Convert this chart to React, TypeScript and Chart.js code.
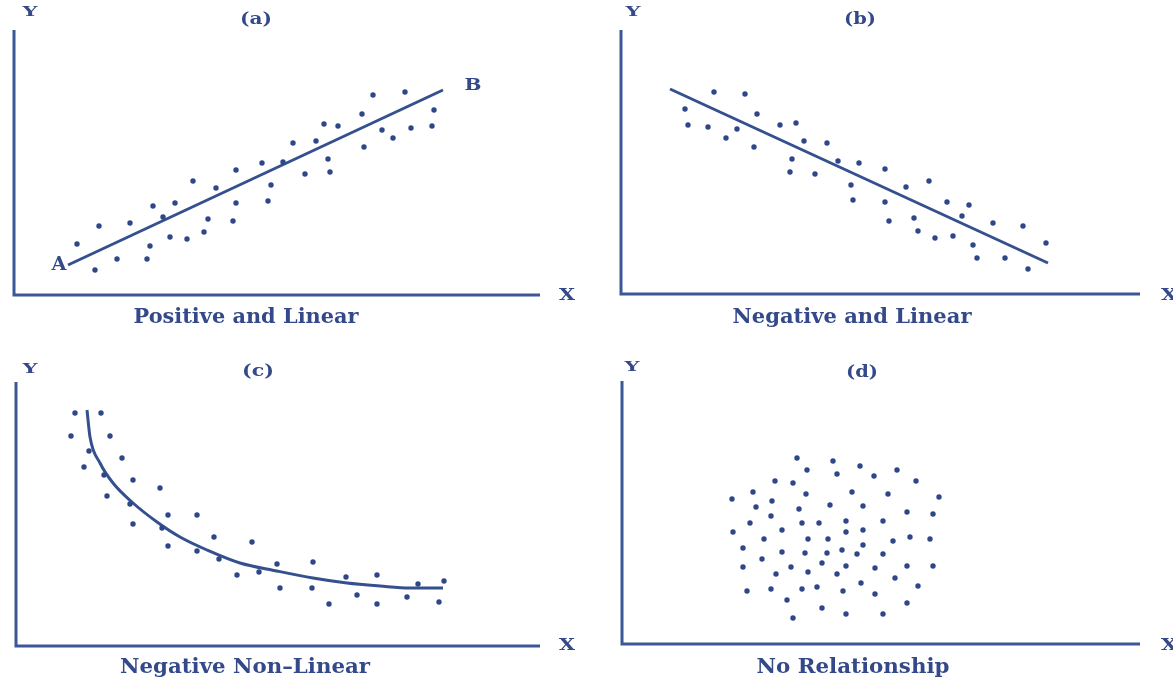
import React, { useEffect, useRef } from "react";
import { Chart, registerables } from "chart.js";

Chart.register(...registerables);

// ---------- Data (units: tenths of the axis drawing, origin at axis corner) ----------
// Panel (a) Positive and Linear
const A_DOTS_X = [6.3, 8.5, 8.1, 10.3, 11.6, 13.3, 13.6, 13.9, 14.9, 15.6, 16.1, 17.3, 17.9, 19.0, 19.4, 20.2, 21.9, 22.2, 22.2, 24.8, 25.4, 25.7, 26.9, 27.9, 29.1, 30.2, 31.0, 31.4, 31.6, 32.4, 34.8, 35.0, 35.9, 36.8, 37.9, 39.1, 39.7, 41.8, 42.0];
const A_DOTS_Y = [5.1, 6.9, 2.5, 3.6, 7.2, 3.6, 4.9, 8.9, 7.8, 5.8, 9.2, 5.6, 11.4, 6.3, 7.6, 10.7, 7.4, 9.2, 12.5, 13.2, 9.4, 11.0, 13.3, 15.2, 12.1, 15.4, 17.1, 13.6, 12.3, 16.9, 18.1, 14.8, 20.0, 16.5, 15.7, 20.3, 16.7, 16.9, 18.5];
const A_LINE_X = [5.4, 42.9];
const A_LINE_Y = [3.0, 20.5];

// Panel (b) Negative and Linear
const B_DOTS_X = [6.4, 6.7, 9.3, 8.7, 10.5, 11.6, 12.4, 13.6, 13.3, 15.9, 17.5, 18.3, 17.1, 16.9, 19.4, 20.6, 21.7, 23.8, 23.0, 23.2, 26.4, 26.4, 26.8, 28.5, 30.8, 29.3, 29.7, 31.4, 32.6, 33.2, 34.1, 34.8, 35.2, 35.6, 37.2, 38.4, 40.2, 40.7, 42.5];
const B_DOTS_Y = [18.5, 16.9, 20.2, 16.7, 15.6, 16.5, 20.0, 18.0, 14.7, 16.9, 17.1, 15.3, 13.5, 12.2, 12.0, 15.1, 13.3, 13.1, 10.9, 9.4, 12.5, 9.2, 7.3, 10.7, 11.3, 7.6, 6.3, 5.6, 9.2, 5.8, 7.8, 8.9, 4.9, 3.6, 7.1, 3.6, 6.8, 2.5, 5.1];
const B_LINE_X = [4.9, 42.7];
const B_LINE_Y = [20.5, 3.1];

// Panel (c) Negative Non-Linear
const C_DOTS_X = [5.9, 8.5, 5.5, 9.4, 7.3, 6.8, 10.6, 8.8, 11.7, 9.1, 11.4, 14.4, 15.2, 11.7, 14.6, 18.1, 15.2, 18.1, 19.8, 20.3, 23.6, 22.1, 24.3, 26.1, 26.4, 29.6, 29.7, 31.3, 33.0, 34.1, 36.1, 36.1, 39.1, 40.2, 42.3, 42.8];
const C_DOTS_Y = [23.3, 23.3, 21.0, 21.0, 19.5, 17.9, 18.8, 17.1, 16.6, 15.0, 14.2, 15.8, 13.1, 12.2, 11.8, 13.1, 10.0, 9.5, 10.9, 8.7, 10.4, 7.1, 7.4, 8.2, 5.8, 5.8, 8.4, 4.2, 6.9, 5.1, 7.1, 4.2, 4.9, 6.2, 4.4, 6.5];
const C_CURVE_X = [7.1, 7.4, 8.4, 9.7, 11.7, 14.1, 16.4, 19.1, 22.4, 26.1, 29.7, 33.1, 36.4, 39.4, 42.7];
const C_CURVE_Y = [23.6, 20.9, 18.3, 16.3, 14.3, 12.4, 10.9, 9.6, 8.3, 7.5, 6.8, 6.3, 6.0, 5.8, 5.8];

// Panel (d) No Relationship
const D_DOTS_X = [17.5, 21.1, 18.5, 23.8, 21.5, 25.2, 27.5, 15.3, 17.1, 13.1, 11.0, 18.4, 23.0, 26.6, 15.0, 13.4, 17.7, 20.8, 24.1, 14.9, 12.8, 18.0, 19.7, 22.4, 26.1, 11.1, 16.0, 14.2, 18.6, 20.6, 22.4, 24.1, 27.1, 24.1, 12.1, 16.0, 18.3, 20.5, 22.0, 23.5, 26.1, 14.0, 20.0, 12.1, 16.9, 18.6, 22.4, 25.3, 15.4, 21.5, 27.3, 12.5, 14.9, 18.0, 19.5, 22.1, 23.9, 25.3, 16.5, 20.0, 22.4, 17.1, 26.1, 29.4, 31.7, 28.5, 31.1, 28.8, 30.8, 28.5, 31.1, 29.6, 28.5];
const D_DOTS_Y = [18.6, 18.3, 17.4, 17.8, 17.0, 16.8, 17.4, 16.3, 16.1, 15.2, 14.5, 15.0, 15.2, 15.0, 14.3, 13.7, 13.5, 13.9, 13.8, 12.8, 12.1, 12.1, 12.1, 12.3, 12.3, 11.2, 11.4, 10.5, 10.5, 10.5, 11.2, 11.4, 10.3, 9.9, 9.6, 9.2, 9.1, 9.1, 9.4, 9.0, 9.0, 8.5, 8.1, 7.7, 7.7, 7.2, 7.8, 7.6, 7.0, 7.0, 6.6, 5.3, 5.5, 5.5, 5.7, 5.3, 6.1, 5.0, 4.4, 3.6, 3.0, 2.6, 3.0, 16.3, 14.7, 13.2, 13.0, 10.7, 10.5, 7.8, 7.8, 5.8, 4.1];

// Axis extents
const AXIS_X_MAX = [52.6, 51.9, 52.4, 51.8];
const AXIS_Y_MAX = [26.5, 26.4, 26.4, 26.3];

// Text
const PANEL_LABELS = ["(a)", "(b)", "(c)", "(d)"];
const CAPTIONS = ["Positive and Linear", "Negative and Linear", "Negative Non\u2013Linear", "No Relationship"];

const DOT_COLOR = "#2f4788";
const LINE_COLOR = "#34508f";
const AXIS_COLOR = "#3c5797";
const TEXT_COLOR = "#34498a";
const FONT = "'DejaVu Serif', 'Liberation Serif', serif";

type Txt = { t: string; x: number; y: number; size: number; w?: number };
type PanelCfg = {
  left: number; top: number; width: number; height: number;
  pad: { left: number; right: number; top: number; bottom: number };
  xMax: number; yMax: number;
  dotsX: number[]; dotsY: number[];
  lineX: number[]; lineY: number[]; curve: boolean;
  texts: Txt[];
};

const zip = (xs: number[], ys: number[]) => xs.map((x, i) => ({ x, y: ys[i] }));

const PANELS: PanelCfg[] = [
  {
    left: 0, top: 0, width: 586, height: 342,
    pad: { left: 14, right: 46, top: 30, bottom: 47 },
    xMax: AXIS_X_MAX[0], yMax: AXIS_Y_MAX[0],
    dotsX: A_DOTS_X, dotsY: A_DOTS_Y, lineX: A_LINE_X, lineY: A_LINE_Y, curve: false,
    texts: [
      { t: "Y", x: 30, y: 13, size: 13, w: 15 },
      { t: PANEL_LABELS[0], x: 256, y: 20, size: 17, w: 32 },
      { t: "X", x: 567, y: 296, size: 17, w: 16 },
      { t: CAPTIONS[0], x: 246, y: 318, size: 21, w: 225 },
      { t: "A", x: 59, y: 265, size: 18, w: 15 },
      { t: "B", x: 473, y: 86, size: 17, w: 17 },
    ],
  },
  {
    left: 586, top: 0, width: 587, height: 342,
    pad: { left: 35, right: 33, top: 30, bottom: 48 },
    xMax: AXIS_X_MAX[1], yMax: AXIS_Y_MAX[1],
    dotsX: B_DOTS_X, dotsY: B_DOTS_Y, lineX: B_LINE_X, lineY: B_LINE_Y, curve: false,
    texts: [
      { t: "Y", x: 47, y: 13, size: 13, w: 15 },
      { t: PANEL_LABELS[1], x: 274, y: 20, size: 17, w: 32 },
      { t: "X", x: 583, y: 296, size: 17, w: 16 },
      { t: CAPTIONS[1], x: 266, y: 318, size: 21, w: 239 },
    ],
  },
  {
    left: 0, top: 342, width: 586, height: 342,
    pad: { left: 16, right: 46, top: 40, bottom: 38 },
    xMax: AXIS_X_MAX[2], yMax: AXIS_Y_MAX[2],
    dotsX: C_DOTS_X, dotsY: C_DOTS_Y, lineX: C_CURVE_X, lineY: C_CURVE_Y, curve: true,
    texts: [
      { t: "Y", x: 30, y: 28, size: 13, w: 15 },
      { t: PANEL_LABELS[2], x: 258, y: 30, size: 17, w: 32 },
      { t: "X", x: 567, y: 304, size: 17, w: 16 },
      { t: CAPTIONS[2], x: 245, y: 326, size: 21, w: 250 },
    ],
  },
  {
    left: 586, top: 342, width: 587, height: 342,
    pad: { left: 36, right: 33, top: 39, bottom: 40 },
    xMax: AXIS_X_MAX[3], yMax: AXIS_Y_MAX[3],
    dotsX: D_DOTS_X, dotsY: D_DOTS_Y, lineX: [], lineY: [], curve: false,
    texts: [
      { t: "Y", x: 46, y: 26, size: 13, w: 15 },
      { t: PANEL_LABELS[3], x: 276, y: 31, size: 17, w: 32 },
      { t: "X", x: 583, y: 304, size: 17, w: 16 },
      { t: CAPTIONS[3], x: 267, y: 326, size: 21, w: 193 },
    ],
  },
];

const decorPlugin = {
  id: "decor",
  beforeDatasetsDraw(chart: any) {
    const { ctx, chartArea } = chart;
    ctx.save();
    ctx.strokeStyle = AXIS_COLOR;
    ctx.lineWidth = 3;
    ctx.lineCap = "butt";
    ctx.beginPath();
    ctx.moveTo(chartArea.left, chartArea.top);
    ctx.lineTo(chartArea.left, chartArea.bottom);
    ctx.lineTo(chartArea.right, chartArea.bottom);
    ctx.stroke();
    ctx.restore();
  },
  afterDraw(chart: any) {
    const texts: Txt[] = chart.options.plugins.decor.texts;
    const ctx = chart.ctx;
    ctx.save();
    ctx.fillStyle = TEXT_COLOR;
    ctx.textAlign = "center";
    ctx.textBaseline = "middle";
    for (const tx of texts) {
      ctx.font = `bold ${tx.size}px ${FONT}`;
      if (tx.w) {
        const m = ctx.measureText(tx.t).width;
        const sx = tx.w / m;
        ctx.save();
        ctx.translate(tx.x, tx.y);
        ctx.scale(sx, 1);
        ctx.fillText(tx.t, 0, 0);
        ctx.restore();
      } else {
        ctx.fillText(tx.t, tx.x, tx.y);
      }
    }
    ctx.restore();
  },
};

function PanelChart({ cfg }: { cfg: PanelCfg }) {
  const ref = useRef<HTMLCanvasElement>(null);
  useEffect(() => {
    if (!ref.current) return;
    const datasets: any[] = [
      {
        data: zip(cfg.dotsX, cfg.dotsY),
        pointRadius: 2.7,
        pointBackgroundColor: DOT_COLOR,
        pointBorderWidth: 0,
        showLine: false,
      },
    ];
    if (cfg.lineX.length) {
      datasets.push({
        data: zip(cfg.lineX, cfg.lineY),
        showLine: true,
        pointRadius: 0,
        borderColor: LINE_COLOR,
        borderWidth: 3,
        cubicInterpolationMode: cfg.curve ? "monotone" : "default",
        tension: cfg.curve ? 0.4 : 0,
      });
    }
    const chart = new Chart(ref.current, {
      type: "scatter",
      data: { datasets },
      options: {
        animation: false,
        responsive: false,
        events: [],
        layout: { padding: cfg.pad },
        scales: {
          x: { type: "linear", display: false, min: 0, max: cfg.xMax },
          y: { type: "linear", display: false, min: 0, max: cfg.yMax },
        },
        plugins: {
          legend: { display: false },
          tooltip: { enabled: false },
          decor: { texts: cfg.texts },
        } as any,
      },
      plugins: [decorPlugin],
    });
    return () => chart.destroy();
  }, [cfg]);
  return (
    <canvas
      ref={ref}
      width={cfg.width}
      height={cfg.height}
      style={{ position: "absolute", left: cfg.left, top: cfg.top, width: cfg.width, height: cfg.height }}
    />
  );
}

export default function App() {
  return (
    <div style={{ position: "fixed", left: 0, top: 0, width: 1173, height: 684, background: "#fff", overflow: "hidden" }}>
      {PANELS.map((p, i) => (
        <PanelChart key={i} cfg={p} />
      ))}
    </div>
  );
}
